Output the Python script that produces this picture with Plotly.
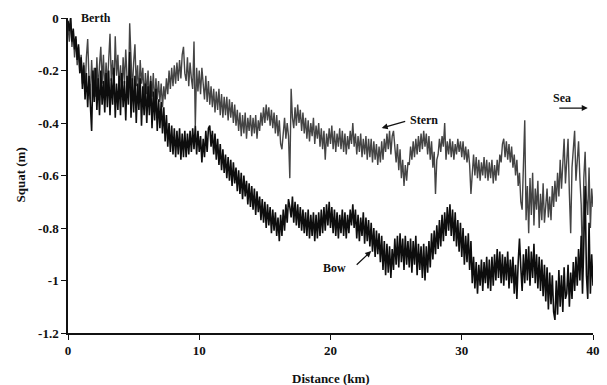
import plotly.graph_objects as go

# Distance along the channel (km), sampled every 0.1 km
distance_km = [round(i * 0.1, 1) for i in range(401)]

# Bow squat (m), one row per km
bow_squat = [
    -0.01, -0.05, 0.00, -0.09, -0.04, -0.12, -0.07, -0.16, -0.10, -0.21,
    -0.15, -0.27, -0.18, -0.31, -0.21, -0.34, -0.22, -0.36, -0.43, -0.20,
    -0.32, -0.19, -0.35, -0.23, -0.37, -0.20, -0.33, -0.24, -0.36, -0.21,
    -0.34, -0.20, -0.37, -0.23, -0.33, -0.19, -0.38, -0.25, -0.35, -0.22,
    -0.37, -0.21, -0.34, -0.24, -0.39, -0.22, -0.33, -0.13, -0.38, -0.23,
    -0.36, -0.22, -0.40, -0.25, -0.35, -0.23, -0.41, -0.26, -0.37, -0.25,
    -0.40, -0.26, -0.37, -0.24, -0.42, -0.28, -0.39, -0.27, -0.43, -0.31,
    -0.42, -0.32, -0.44, -0.34, -0.47, -0.37, -0.49, -0.40, -0.51, -0.41,
    -0.52, -0.42, -0.53, -0.43, -0.52, -0.42, -0.54, -0.44, -0.53, -0.43,
    -0.53, -0.44, -0.52, -0.43, -0.51, -0.42, -0.50, -0.41, -0.52, -0.43,
    -0.51, -0.45, -0.55, -0.46, -0.53, -0.43, -0.51, -0.42, -0.41, -0.49,
    -0.43, -0.52, -0.44, -0.54, -0.46, -0.56, -0.48, -0.58, -0.50, -0.59,
    -0.52, -0.61, -0.53, -0.62, -0.54, -0.64, -0.55, -0.63, -0.57, -0.66,
    -0.58, -0.67, -0.59, -0.69, -0.60, -0.68, -0.62, -0.71, -0.63, -0.72,
    -0.64, -0.73, -0.65, -0.75, -0.66, -0.74, -0.68, -0.77, -0.69, -0.78,
    -0.70, -0.80, -0.71, -0.79, -0.72, -0.82, -0.73, -0.81, -0.74, -0.83,
    -0.76, -0.85, -0.75, -0.83, -0.73, -0.81, -0.71, -0.78, -0.69, -0.72,
    -0.76, -0.68, -0.78, -0.70, -0.79, -0.71, -0.80, -0.72, -0.81, -0.73,
    -0.82, -0.74, -0.83, -0.73, -0.84, -0.75, -0.83, -0.74, -0.85, -0.75,
    -0.84, -0.74, -0.83, -0.73, -0.82, -0.72, -0.81, -0.71, -0.79, -0.70,
    -0.80, -0.72, -0.82, -0.73, -0.83, -0.74, -0.84, -0.75, -0.82, -0.73,
    -0.83, -0.74, -0.84, -0.75, -0.82, -0.73, -0.79, -0.71, -0.80, -0.73,
    -0.84, -0.75, -0.85, -0.76, -0.83, -0.74, -0.86, -0.76, -0.85, -0.77,
    -0.87, -0.78, -0.89, -0.80, -0.91, -0.81, -0.90, -0.82, -0.93, -0.83,
    -0.96, -0.85, -0.98, -0.86, -0.97, -0.87, -0.99, -0.88, -0.96, -0.84,
    -0.94, -0.83, -0.95, -0.82, -0.93, -0.84, -0.96, -0.83, -0.94, -0.85,
    -0.95, -0.84, -0.97, -0.85, -0.94, -0.83, -0.98, -0.86, -0.96, -0.87,
    -0.99, -0.86, -1.00, -0.87, -0.97, -0.85, -0.95, -0.82, -0.92, -0.81,
    -0.90, -0.79, -0.88, -0.77, -0.87, -0.75, -0.85, -0.74, -0.83, -0.72,
    -0.81, -0.71, -0.83, -0.73, -0.85, -0.74, -0.87, -0.77, -0.89, -0.78,
    -0.91, -0.80, -0.94, -0.83, -0.93, -0.82, -0.96, -0.85, -1.01, -0.91,
    -1.03, -0.93, -1.05, -0.94, -1.02, -0.92, -1.04, -0.93, -1.01, -0.91,
    -1.03, -0.92, -1.04, -0.91, -1.02, -0.90, -1.00, -0.88, -0.99, -0.89,
    -1.01, -0.90, -1.02, -0.91, -1.00, -0.89, -1.03, -0.92, -1.01, -0.91,
    -1.05, -0.94, -1.07, -0.93, -0.84, -0.95, -1.04, -0.90, -1.01, -0.88,
    -1.00, -0.87, -1.02, -0.89, -0.99, -0.86, -1.01, -0.90, -1.03, -0.91,
    -1.04, -0.92, -1.06, -0.94, -1.08, -0.95, -1.11, -0.97, -1.09, -0.98,
    -1.12, -1.15, -1.00, -1.13, -0.96, -1.10, -0.98, -1.12, -0.95, -1.07,
    -1.05, -0.94, -1.10, -0.97, -1.07, -0.93, -1.04, -0.91, -1.02, -0.88,
    -1.00, -0.83, -1.05, -0.86, -0.64, -0.98, -1.07, -0.78, -1.05, -0.90,
    -1.02,
]

# Stern squat (m), one row per km
stern_squat = [
    -0.03, -0.09, 0.00, -0.11, -0.05, -0.15, -0.08, -0.18, -0.11, -0.21,
    -0.14, -0.25, -0.17, -0.29, -0.15, -0.08, -0.23, -0.31, -0.16, -0.27,
    -0.19, -0.30, -0.15, -0.28, -0.18, -0.11, -0.25, -0.14, -0.29, -0.17,
    -0.26, -0.15, -0.06, -0.24, -0.16, -0.28, -0.07, -0.22, -0.14, -0.27,
    -0.18, -0.29, -0.15, -0.25, -0.12, -0.23, -0.30, -0.02, -0.19, -0.28,
    -0.17, -0.10, -0.26, -0.18, -0.30, -0.16, -0.25, -0.19, -0.31, -0.21,
    -0.29, -0.20, -0.32, -0.22, -0.30, -0.21, -0.33, -0.23, -0.31, -0.24,
    -0.32, -0.25, -0.34, -0.26, -0.31, -0.23, -0.29, -0.20, -0.27, -0.19,
    -0.26, -0.18, -0.25, -0.17, -0.24, -0.16, -0.23, -0.14, -0.11, -0.21,
    -0.24, -0.15, -0.26, -0.17, -0.23, -0.27, -0.09, -0.41, -0.19, -0.28,
    -0.20, -0.29, -0.19, -0.26, -0.31, -0.22, -0.32, -0.24, -0.33, -0.26,
    -0.34, -0.27, -0.36, -0.28, -0.35, -0.27, -0.37, -0.29, -0.38, -0.30,
    -0.37, -0.30, -0.39, -0.31, -0.38, -0.32, -0.40, -0.33, -0.41, -0.35,
    -0.43, -0.36, -0.45, -0.37, -0.44, -0.36, -0.46, -0.38, -0.43, -0.37,
    -0.45, -0.38, -0.44, -0.37, -0.46, -0.39, -0.43, -0.36, -0.41, -0.34,
    -0.40, -0.33, -0.39, -0.34, -0.41, -0.35, -0.42, -0.36, -0.44, -0.37,
    -0.45, -0.39, -0.48, -0.50, -0.44, -0.38, -0.46, -0.40, -0.45, -0.61,
    -0.27, -0.38, -0.42, -0.34, -0.41, -0.33, -0.40, -0.35, -0.43, -0.36,
    -0.44, -0.38, -0.46, -0.39, -0.47, -0.40, -0.45, -0.38, -0.48, -0.41,
    -0.46, -0.40, -0.49, -0.42, -0.50, -0.43, -0.54, -0.44, -0.49, -0.42,
    -0.48, -0.41, -0.50, -0.43, -0.51, -0.44, -0.49, -0.42, -0.50, -0.43,
    -0.51, -0.44, -0.52, -0.45, -0.50, -0.43, -0.48, -0.40, -0.49, -0.44,
    -0.52, -0.45, -0.51, -0.44, -0.53, -0.46, -0.52, -0.45, -0.54, -0.46,
    -0.53, -0.46, -0.55, -0.47, -0.54, -0.48, -0.56, -0.49, -0.55, -0.47,
    -0.54, -0.46, -0.51, -0.44, -0.50, -0.43, -0.52, -0.45, -0.43, -0.50,
    -0.55, -0.48, -0.58, -0.50, -0.61, -0.54, -0.64, -0.56, -0.62, -0.55,
    -0.56, -0.49, -0.54, -0.47, -0.53, -0.46, -0.52, -0.45, -0.51, -0.44,
    -0.50, -0.43, -0.49, -0.44, -0.52, -0.45, -0.54, -0.47, -0.57, -0.51,
    -0.67, -0.54, -0.52, -0.46, -0.51, -0.45, -0.49, -0.40, -0.54, -0.47,
    -0.52, -0.46, -0.53, -0.47, -0.54, -0.48, -0.52, -0.46, -0.51, -0.47,
    -0.53, -0.47, -0.54, -0.49, -0.55, -0.50, -0.56, -0.67, -0.58, -0.52,
    -0.60, -0.53, -0.61, -0.54, -0.62, -0.55, -0.60, -0.53, -0.61, -0.54,
    -0.62, -0.55, -0.61, -0.54, -0.63, -0.56, -0.62, -0.54, -0.60, -0.52,
    -0.55, -0.48, -0.46, -0.53, -0.47, -0.54, -0.48, -0.55, -0.49, -0.57,
    -0.52, -0.60, -0.54, -0.64, -0.59, -0.70, -0.73, -0.57, -0.39, -0.77,
    -0.64, -0.82, -0.61, -0.75, -0.59, -0.79, -0.65, -0.73, -0.62, -0.80,
    -0.67, -0.77, -0.63, -0.78, -0.69, -0.65, -0.76, -0.68, -0.77, -0.64,
    -0.72, -0.62, -0.70, -0.59, -0.68, -0.54, -0.65, -0.57, -0.46, -0.63,
    -0.56, -0.46, -0.67, -0.82, -0.57, -0.49, -0.43, -0.62, -0.55, -0.47,
    -0.61, -0.71, -0.95, -0.61, -0.51, -0.69, -0.75, -0.57, -0.80, -0.65,
    -0.72,
]

x_ticks = [0, 10, 20, 30, 40]
y_ticks = [0, -0.2, -0.4, -0.6, -0.8, -1, -1.2]
y_tick_text = ["0", "-0.2", "-0.4", "-0.6", "-0.8", "-1", "-1.2"]

SERIF = "Liberation Serif, Times New Roman, serif"
label_font = dict(family=SERIF, size=13, color="#111", weight="bold")

fig = go.Figure()
fig.add_trace(go.Scatter(x=distance_km, y=stern_squat, mode="lines",
                         line=dict(color="#444444", width=1.4), name="Stern"))
fig.add_trace(go.Scatter(x=distance_km, y=bow_squat, mode="lines",
                         line=dict(color="#0d0d0d", width=1.6), name="Bow"))

fig.update_layout(
    width=607, height=385,
    margin=dict(l=68, r=7, t=18, b=52),
    paper_bgcolor="white", plot_bgcolor="white",
    showlegend=False,
    font=label_font,
)
fig.update_xaxes(
    range=[0, 40], tickvals=x_ticks, ticks="outside", ticklen=5,
    tickwidth=1.2, tickcolor="#111", showline=True, linecolor="#111",
    linewidth=1.5, showgrid=False, zeroline=False, tickfont=label_font,
)
fig.update_yaxes(
    range=[-1.2, 0], tickvals=y_ticks, ticktext=y_tick_text,
    ticks="outside", ticklen=5, tickwidth=1.2, tickcolor="#111",
    showline=True, linecolor="#111", linewidth=1.5, showgrid=False,
    zeroline=False, tickfont=label_font,
)

title_font = dict(family=SERIF, size=13, color="#111", weight="bold")
note_font = dict(family=SERIF, size=12, color="#111", weight="bold")

# Axis titles
fig.add_annotation(text="Distance (km)", xref="paper", yref="paper",
                   x=0.5, y=0, yshift=-45, xanchor="center", yanchor="middle",
                   showarrow=False, font=title_font)
fig.add_annotation(text="Squat (m)", xref="paper", yref="paper",
                   x=0, y=0.5, xshift=-48, xanchor="center", yanchor="middle",
                   textangle=-90, showarrow=False, font=title_font)

# Text labels
fig.add_annotation(text="Berth", x=0.85, y=0, xanchor="left", yanchor="middle",
                   showarrow=False, font=note_font)
fig.add_annotation(text="Sea", x=37.6, y=-0.305, showarrow=False, font=note_font)
fig.add_annotation(text="Stern", x=27.1, y=-0.39, showarrow=False, font=note_font)
fig.add_annotation(text="Bow", x=20.3, y=-0.952, showarrow=False, font=note_font)

# Pointer arrows
arrow = dict(showarrow=True, arrowhead=2, arrowsize=1, arrowwidth=1.2,
             arrowcolor="#111", text="")
fig.add_annotation(x=39.6, y=-0.343, ax=-30, ay=0, **arrow)
fig.add_annotation(x=23.9, y=-0.419, ax=25, ay=-7, **arrow)
fig.add_annotation(x=23.1, y=-0.888, ax=-16, ay=15, **arrow)

fig.write_html("out.html")
